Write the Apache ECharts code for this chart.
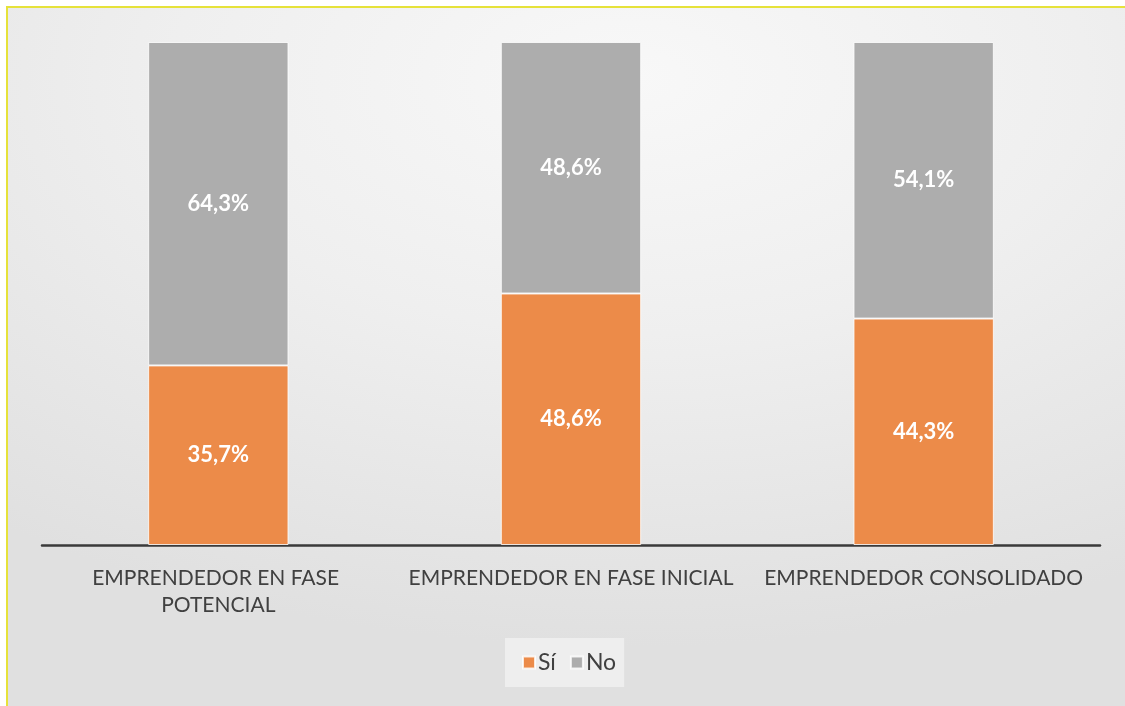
<!DOCTYPE html>
<html>
<head>
<meta charset="utf-8">
<script src="https://cdn.jsdelivr.net/npm/echarts@6/dist/echarts.min.js"></script>
<style>
  html, body { margin: 0; padding: 0; }
  body {
    width: 1125px; height: 706px; overflow: hidden;
    background: #fff;
  }
  .frame {
    position: absolute; left: 6px; top: 6px; width: 1130px; height: 710px;
    border-top: 2px solid #e6e23a; border-left: 2px solid #e6e23a;
    background: radial-gradient(ellipse 90% 80% at 55% 10%, #f8f8f8 0%, #efefef 45%, #e0e0e0 100%);
  }
  #chart { position: absolute; left: 0; top: 0; width: 1125px; height: 706px; }
</style>
</head>
<body>
<div class="frame"></div>
<div id="chart"></div>
<script>
// categories and values (percent, as printed on the chart)
const categories = [
  "EMPRENDEDOR EN FASE POTENCIAL",
  "EMPRENDEDOR EN FASE INICIAL",
  "EMPRENDEDOR CONSOLIDADO"
];
const siValues = [35.7, 48.6, 44.3];
const noValues = [64.3, 48.6, 54.1];
const seriesNames = ["Sí", "No"];

// 100% stacked: each bar scaled to its own total
const totals = siValues.map((v, i) => v + noValues[i]);
const share = (arr) => arr.map((v, i) => v / totals[i] * 100);

const fmt = (v) => v.toFixed(1).replace(".", ",") + "%";

const chart = echarts.init(document.getElementById("chart"));

const labelStyle = (raw) => ({
  show: true,
  position: "inside",
  color: "#fff",
  fontFamily: "Lato",
  fontWeight: "bold",
  fontSize: 22,
  formatter: (p) => fmt(raw[p.dataIndex])
});

const option = {
  backgroundColor: "transparent",
  animation: false,
  grid: { left: 42, right: 25, top: 42, bottom: 161 },
  legend: {
    data: seriesNames,
    left: 505,
    top: 638,
    padding: [13, 8, 13, 17],
    backgroundColor: "rgba(255,255,255,0.45)",
    itemWidth: 12,
    itemHeight: 12,
    itemGap: 14,
    icon: "rect",
    textStyle: { color: "#404040", fontSize: 23, fontFamily: "Lato", padding: [0, 0, 0, -2] }
  },
  xAxis: {
    type: "category",
    data: categories,
    axisLine: { lineStyle: { color: "#3a3a3a", width: 2.5 } },
    axisTick: { show: false },
    axisLabel: {
      color: "#404040",
      fontFamily: "Lato",
      fontSize: 21,
      margin: 20,
      lineHeight: 27,
      width: 335,
      overflow: "break",
      interval: 0
    }
  },
  yAxis: {
    type: "value",
    min: 0,
    max: 100,
    show: false
  },
  series: [
    {
      name: seriesNames[0],
      type: "bar",
      stack: "total",
      barWidth: "39.8%",
      data: share(siValues),
      itemStyle: { color: "#ec8b49", borderColor: "rgba(255,255,255,0.8)", borderWidth: 1 },
      label: labelStyle(siValues)
    },
    {
      name: seriesNames[1],
      type: "bar",
      stack: "total",
      barWidth: "39.8%",
      data: share(noValues),
      itemStyle: { color: "#adadad", borderColor: "rgba(255,255,255,0.8)", borderWidth: 1 },
      label: labelStyle(noValues)
    }
  ]
};

chart.setOption(option);
</script>
</body>
</html>
